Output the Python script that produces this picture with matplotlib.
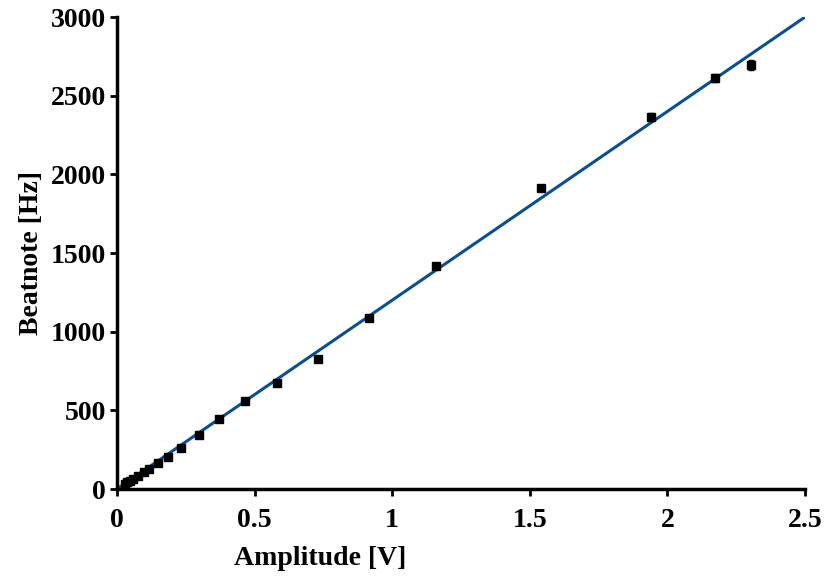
import matplotlib.pyplot as plt

amplitude = [2.304, 2.173, 1.940, 1.541, 1.159, 0.916, 0.731, 0.581, 0.464,
             0.371, 0.298, 0.233, 0.185, 0.150, 0.118, 0.097, 0.075, 0.060,
             0.047, 0.037, 0.030]
beatnote = [2695, 2612, 2362, 1913, 1418, 1087, 826, 674, 561,
            445, 345, 262, 205, 168, 130, 108, 80, 66,
            52, 42, 34]
yerr = [30, 28, 25, 15, 12, 10, 10, 10, 10,
        10, 10, 10, 10, 10, 10, 10, 10, 10,
        10, 10, 10]

fit_x = [0, 2.5]
fit_y = [0, 3000]

plt.rcParams['font.family'] = ['Liberation Serif', 'DejaVu Serif']
plt.rcParams['font.weight'] = 'bold'

fig = plt.figure(figsize=(8.26, 5.77), dpi=100)
ax = fig.add_axes([0.1416, 0.1525, 0.833, 0.818])

ax.plot(fit_x, fit_y, color='#0b4f8e', lw=2.2, zorder=2)
ax.errorbar(amplitude, beatnote, yerr=yerr, fmt='s', color='black',
            ms=5.5, mec='black', mfc='black', ecolor='black', elinewidth=1.2,
            capsize=2, zorder=3)

ax.set_xlim(0, 2.5)
ax.set_ylim(0, 3000)
ax.set_xticks([0, 0.5, 1, 1.5, 2, 2.5])
ax.set_xticklabels(['0', '0.5', '1', '1.5', '2', '2.5'])
ax.set_yticks([0, 500, 1000, 1500, 2000, 2500, 3000])

for s in ['top', 'right']:
    ax.spines[s].set_visible(False)
for s in ['left', 'bottom']:
    ax.spines[s].set_linewidth(2.5)
ax.tick_params(direction='out', length=5, width=2, labelsize=20)
ax.tick_params(axis='x', pad=9)
ax.tick_params(axis='y', pad=3)

ax.set_xlabel('Amplitude [V]', fontsize=20, fontweight='bold')
ax.set_ylabel('Beatnote [Hz]', fontsize=20, fontweight='bold')
ax.xaxis.set_label_coords(0.295, -0.12)
ax.yaxis.set_label_coords(-0.106, 0.5)

fig.savefig('out.png', dpi=100)
